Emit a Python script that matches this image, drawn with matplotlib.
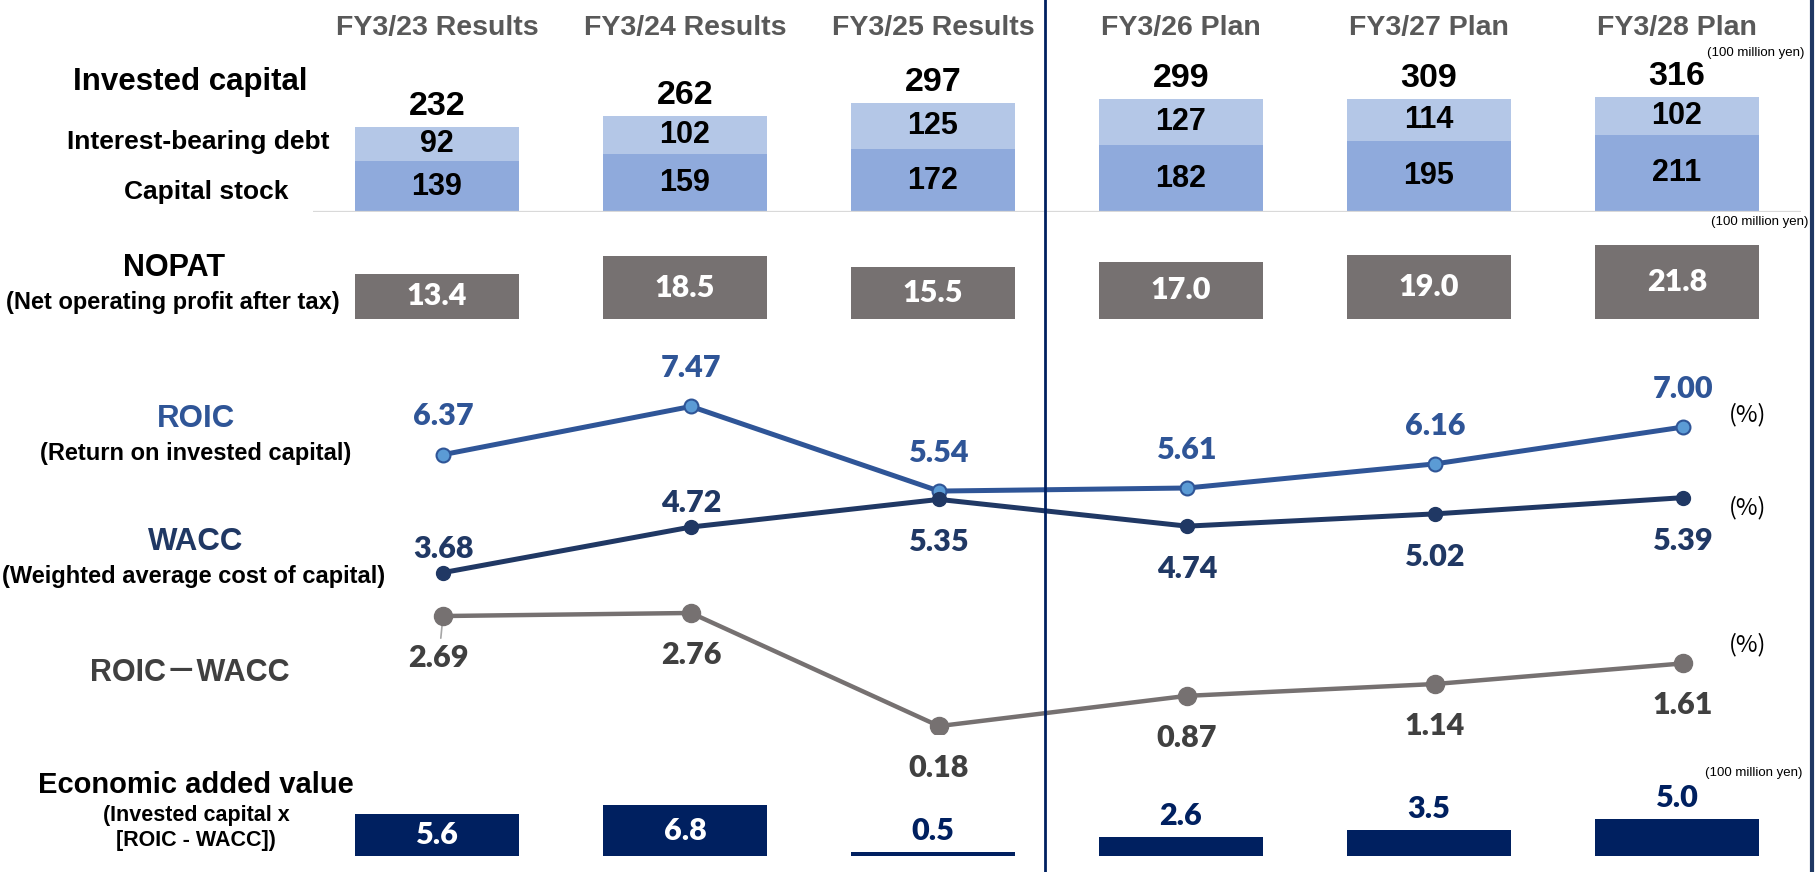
import matplotlib
matplotlib.use("Agg")
import matplotlib.pyplot as plt
from matplotlib.lines import Line2D
from matplotlib.transforms import blended_transform_factory
import numpy as np

# ---- data (invested capital / NOPAT / EVA in 100 million yen, rates in %) ----
periods = ["FY3/23 Results", "FY3/24 Results", "FY3/25 Results",
           "FY3/26 Plan", "FY3/27 Plan", "FY3/28 Plan"]
capital_stock = [139, 159, 172, 182, 195, 211]
interest_debt = [92, 102, 125, 127, 114, 102]
invested_total = [232, 262, 297, 299, 309, 316]
nopat = [13.4, 18.5, 15.5, 17.0, 19.0, 21.8]
roic = [6.37, 7.47, 5.54, 5.61, 6.16, 7.00]
wacc = [3.68, 4.72, 5.35, 4.74, 5.02, 5.39]
spread = [2.69, 2.76, 0.18, 0.87, 1.14, 1.61]
eva = [5.6, 6.8, 0.5, 2.6, 3.5, 5.0]

# ---- style ----
plt.rcParams['font.family'] = ['Liberation Sans', 'DejaVu Sans']
NUM_FONT = ['Lato', 'Liberation Sans']
NUM_WEIGHT = 'heavy'
C_HEAD = '#595959'
C_DEBT = '#B4C7E7'
C_STOCK = '#8FAADC'
C_NOPAT = '#767171'
C_ROIC = '#2F5597'
C_ROIC_FILL = '#5B9BD5'
C_WACC = '#203864'
C_SPREAD = '#767171'
C_SPREAD_TXT = '#404040'
C_EVA = '#002060'

W, H = 1816, 872
fig = plt.figure(figsize=(W / 100, H / 100), dpi=100)


def fx(x):
    return x / W


def fy(y):
    return 1 - y / H


def px_axes(left, top, right, bottom):
    ax = fig.add_axes([left / W, 1 - bottom / H, (right - left) / W, (bottom - top) / H])
    ax.set_axis_off()
    ax.patch.set_alpha(0)
    ax.set_xlim(-0.5, 5.5)
    return ax


x = np.arange(len(periods))
BAR_W = 0.665

# ---- invested capital (stacked) ----
ax_ic = px_axes(313, 40, 1801, 212)
ax_ic.set_ylim(0, 470)
ax_ic.bar(x, capital_stock, width=BAR_W, color=C_STOCK, zorder=2)
ax_ic.bar(x, interest_debt, bottom=capital_stock, width=BAR_W, color=C_DEBT, zorder=2)
ax_ic.axhline(0, color='#D9D9D9', lw=1.6, zorder=3)
for i in x:
    cs, db = capital_stock[i], interest_debt[i]
    ax_ic.text(i, cs / 2, f"{cs}", ha='center', va='center', fontsize=22,
               fontweight='bold', color='black', zorder=4)
    ax_ic.text(i, cs + db / 2, f"{db}", ha='center', va='center', fontsize=22,
               fontweight='bold', color='black', zorder=4)
    ax_ic.annotate(f"{invested_total[i]}", xy=(i, cs + db), xytext=(0, 15),
                   textcoords='offset points', ha='center', va='center',
                   fontsize=24.5, fontweight='bold', color='black',
                   annotation_clip=False)

# period headers
trans_head = blended_transform_factory(ax_ic.transData, fig.transFigure)
for i, p in enumerate(periods):
    ax_ic.text(i, fy(28), p, transform=trans_head, ha='center', va='center',
               fontsize=20.5, fontweight='bold', color=C_HEAD, clip_on=False)

# ---- NOPAT ----
ax_np = px_axes(313, 230, 1801, 319)
ax_np.set_ylim(0, 89 / 3.38)
ax_np.bar(x, nopat, width=BAR_W, color=C_NOPAT)
for i, v in enumerate(nopat):
    ax_np.text(i, v / 2, f"{v:.1f}", ha='center', va='center', fontsize=22,
               fontweight=NUM_WEIGHT, color='white', family=NUM_FONT)

# ---- ROIC / WACC / spread lines ----
ax_ln = px_axes(319, 340, 1807, 734)
ax_ln.set_ylim(0, 394 / 43.85)
ax_ln.plot(x, spread, color=C_SPREAD, lw=3.2, marker='o', ms=13,
           mfc=C_SPREAD, mec=C_SPREAD, zorder=3)
ax_ln.plot(x, roic, color=C_ROIC, lw=3.6, marker='o', ms=10,
           mfc=C_ROIC_FILL, mec=C_ROIC, mew=1.5, zorder=4)
ax_ln.plot(x, wacc, color=C_WACC, lw=3.6, marker='o', ms=10,
           mfc=C_WACC, mec=C_WACC, zorder=5)

for i, v in enumerate(roic):
    ax_ln.annotate(f"{v:.2f}", xy=(i, v), xytext=(0, 27.5), textcoords='offset points',
                   ha='center', va='center', fontsize=22, fontweight=NUM_WEIGHT,
                   color=C_ROIC, family=NUM_FONT, annotation_clip=False)
for i, v in enumerate(wacc):
    dy = 17 if i < 2 else -31
    ax_ln.annotate(f"{v:.2f}", xy=(i, v), xytext=(0, dy), textcoords='offset points',
                   ha='center', va='center', fontsize=22, fontweight=NUM_WEIGHT,
                   color=C_WACC, family=NUM_FONT, annotation_clip=False)
for i, v in enumerate(spread):
    kw = {}
    if i == 0:
        kw['arrowprops'] = dict(arrowstyle='-', color='#A6A6A6', lw=1.2,
                                shrinkA=2, shrinkB=0)
    ax_ln.annotate(f"{v:.2f}", xy=(i, v), xytext=(-3 if i == 0 else 0, -30),
                   textcoords='offset points', ha='center', va='center',
                   fontsize=22, fontweight=NUM_WEIGHT, color=C_SPREAD_TXT,
                   family=NUM_FONT, annotation_clip=False, zorder=2, **kw)

# ---- economic added value ----
ax_ev = px_axes(313, 760, 1801, 856)
ax_ev.set_ylim(0, 96 / 7.45)
ax_ev.bar(x, eva, width=BAR_W, color=C_EVA)
for i, v in enumerate(eva):
    if v > 5.5:
        ax_ev.text(i, v / 2, f"{v:.1f}", ha='center', va='center', fontsize=22,
                   fontweight=NUM_WEIGHT, color='white', family=NUM_FONT)
    else:
        ax_ev.annotate(f"{v:.1f}", xy=(i, v), xytext=(0, 15), textcoords='offset points',
                       ha='center', va='center', fontsize=22, fontweight=NUM_WEIGHT,
                       color=C_EVA, family=NUM_FONT, annotation_clip=False)

# ---- row captions ----
def caption(xp, yp, s, size, color='black', weight='bold', family=None):
    kw = {}
    if family is not None:
        kw['family'] = family
    fig.text(fx(xp), fy(yp), s, ha='center', va='center', fontsize=size,
             fontweight=weight, color=color, **kw)


caption(190, 82, "Invested capital", 22.5)
caption(198, 142, "Interest-bearing debt", 19)
caption(206, 192, "Capital stock", 19)
caption(174, 268, "NOPAT", 22)
caption(173, 302, "(Net operating profit after tax)", 17)
caption(196, 419, "ROIC", 22.5, color=C_ROIC)
caption(196, 453, "(Return on invested capital)", 17)
caption(196, 542, "WACC", 22.5, color=C_WACC)
caption(194, 576, "(Weighted average cost of capital)", 17)
caption(190, 673, "ROIC－WACC", 22, color=C_SPREAD_TXT,
        family=['Liberation Sans', 'Noto Sans CJK JP'])
caption(196, 785, "Economic added value", 21)
caption(196, 815, "(Invested capital x", 15.5)
caption(196, 840, "[ROIC - WACC])", 15.5)

# unit notes
for xp, yp in [(1756, 53), (1760, 222), (1754, 773)]:
    caption(xp, yp, "(100 million yen)", 9.5, weight='normal')
for yp in [415, 508, 645]:
    caption(1748, yp, "(%)", 17, weight='normal', family=['Noto Sans CJK JP', 'DejaVu Sans'])

# separators: results | plan, and right frame edge
fig.add_artist(Line2D([fx(1045), fx(1045)], [0, 1], transform=fig.transFigure,
                      color='#002060', lw=2))
fig.add_artist(Line2D([fx(1812), fx(1812)], [0, 1], transform=fig.transFigure,
                      color='#1F3864', lw=3))

fig.savefig("out.png", dpi=100, facecolor='white')
